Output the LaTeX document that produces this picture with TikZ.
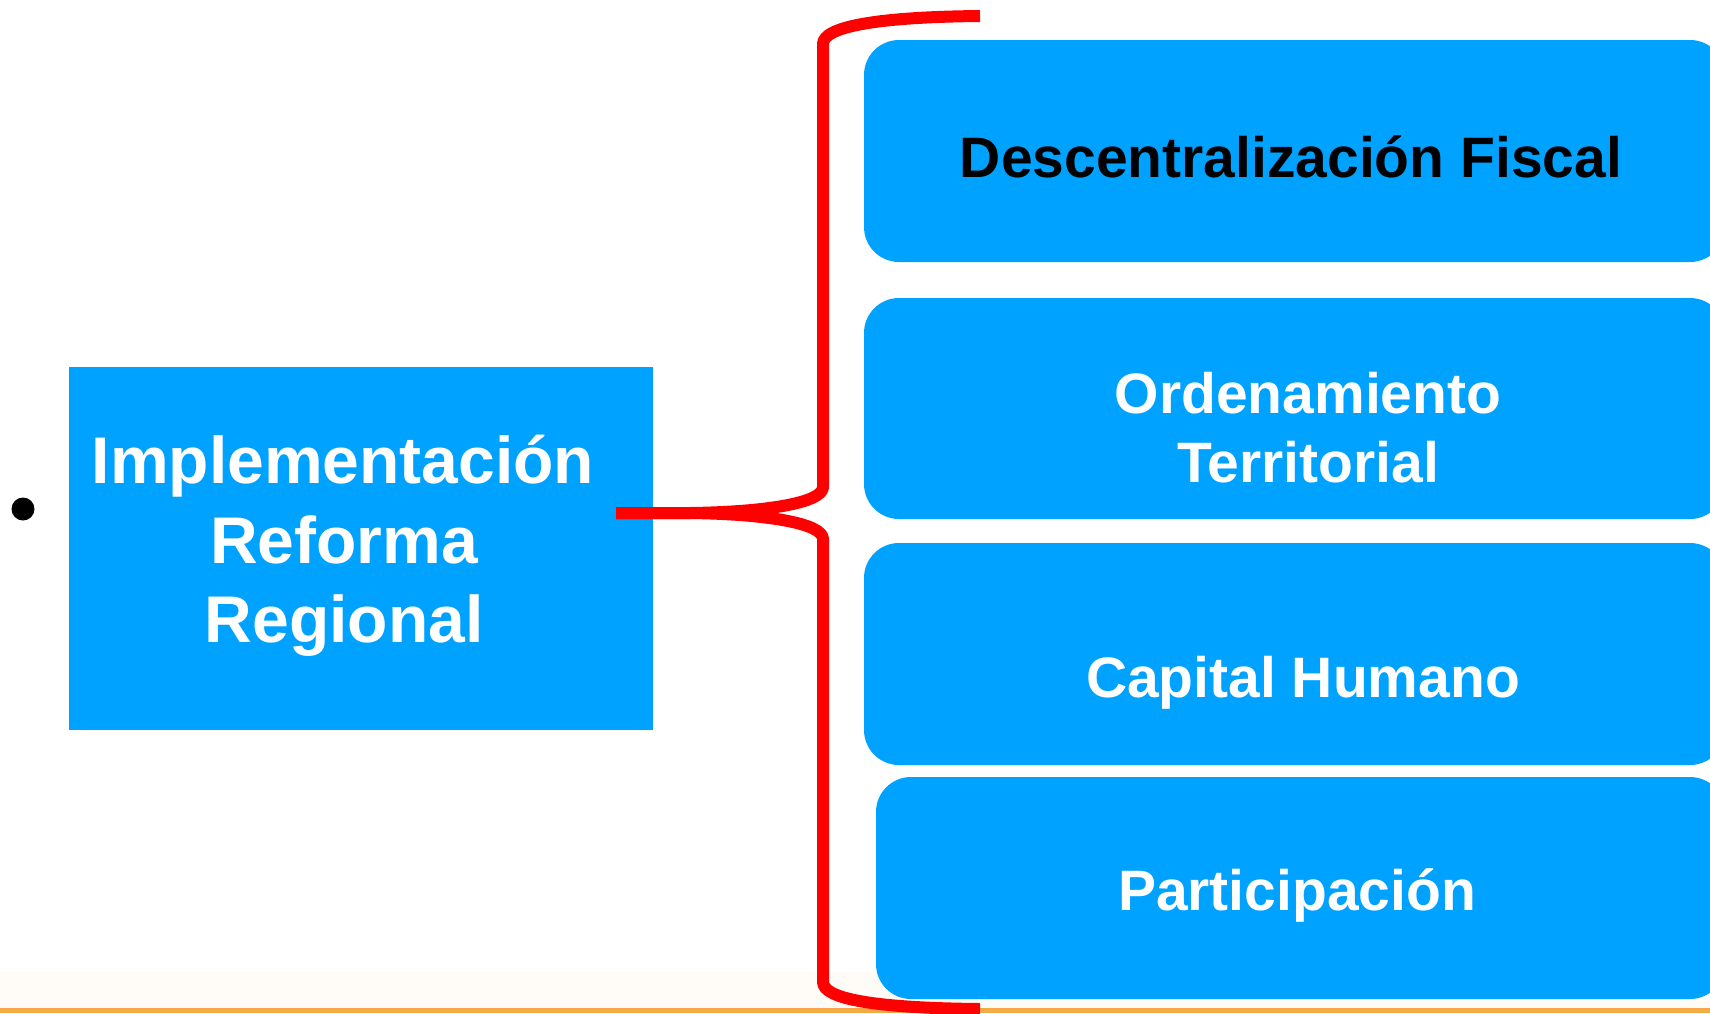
\documentclass[tikz,border=0pt]{standalone}
\usepackage{fontspec}
\setmainfont{Liberation Sans}
\definecolor{boxblue}{RGB}{0,162,255}
\definecolor{bracered}{RGB}{255,0,0}
\definecolor{lineorange}{RGB}{244,170,70}
\definecolor{bandbeige}{RGB}{255,252,247}
\tikzset{
  bluebox/.style={fill=boxblue, draw=none, inner sep=0pt},
  roundbox/.style={bluebox, rounded corners=35pt},
  toplabel/.style={anchor=base, inner sep=0pt, font=\fontsize{57}{66}\selectfont\bfseries},
  leftlabel/.style={anchor=base, inner sep=0pt, text=white, font=\fontsize{66}{78}\selectfont\bfseries},
  bracestroke/.style={draw=bracered, line width=12pt, line cap=butt, line join=round},
}
\begin{document}
\begin{tikzpicture}[x=1pt,y=-1pt]
\useasboundingbox (0,0) rectangle (1710,1013);
\clip (0,0) rectangle (1710,1013);
% bottom band and orange rule
\fill[bandbeige] (0,972) rectangle (1710,1008);
\fill[lineorange] (0,1008) rectangle (1710,1013);
% bullet
\node[circle, fill=black, inner sep=0pt, minimum size=23pt] (dot) at (23,509) {};
% left box
\node[bluebox, minimum width=584pt, minimum height=363pt] (left) at (361,548.5) {};
% right boxes
\node[roundbox, minimum width=861pt, minimum height=222pt] (b1) at (1294.5,151) {};
\node[roundbox, minimum width=861pt, minimum height=221pt] (b2) at (1294.5,408.5) {};
\node[roundbox, minimum width=861pt, minimum height=222pt] (b3) at (1294.5,654) {};
\node[roundbox, minimum width=849pt, minimum height=222pt] (b4) at (1300.5,888) {};
% labels
\node[toplabel, text=black] (t1) at (1291,177) {Descentralización Fiscal};
\node[toplabel, text=white] (t2a) at (1308,413) {Ordenamiento};
\node[toplabel, text=white] (t2b) at (1308,482) {Territorial};
\node[toplabel, text=white] (t3) at (1303,697) {Capital Humano};
\node[toplabel, text=white] (t4) at (1297,910) {Participación};
\node[leftlabel] (l1) at (343,483) {Implementación};
\node[leftlabel] (l2) at (344,563) {Reforma};
\node[leftlabel] (l3) at (344,642) {Regional};
% brace
\coordinate (btop) at (980,16);
\coordinate (bbot) at (980,1009);
\coordinate (tip) at (616,513);
\draw[bracestroke] (btop) .. controls (875,17) and (823,27) .. (823,44) -- (823,487)
   .. controls (823,503) and (765,512) .. (690,513) -- (tip);
\draw[bracestroke] (tip) -- (690,513) .. controls (765,514) and (823,523) .. (823,539)
   -- (823,982) .. controls (823,999) and (875,1008) .. (bbot);
\end{tikzpicture}
\end{document}
